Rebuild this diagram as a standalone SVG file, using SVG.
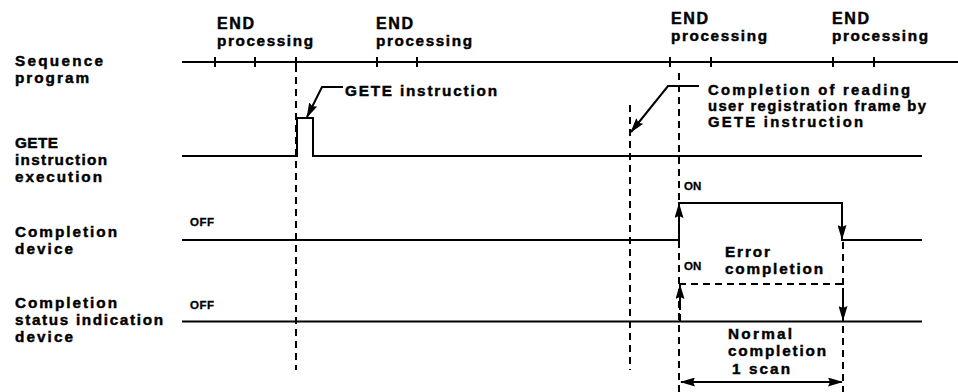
<svg xmlns="http://www.w3.org/2000/svg" width="958" height="392" viewBox="0 0 958 392">
<style>
text{font-family:"Liberation Sans",Arial,sans-serif;font-weight:bold;font-size:15.3px;fill:#000;stroke:#000;stroke-width:0.45}
.s{font-size:11.5px;stroke-width:0.3}
.r{font-size:14.8px}
.e{font-size:16px}
.ln{stroke:#000;stroke-width:2;fill:none}
.dash{stroke:#000;stroke-width:2;fill:none;stroke-dasharray:7 5}
.arr{stroke:#000;stroke-width:2;fill:none;marker-end:url(#ah)}
</style>
<defs>
<marker id="ah" markerUnits="userSpaceOnUse" markerWidth="15" markerHeight="9" refX="14" refY="4.5" orient="auto-start-reverse">
<path d="M0,0 L15,4.5 L0,9 L2,4.5 z" fill="#000"/>
</marker>
</defs>
<rect width="958" height="392" fill="#fff"/>
<g id="labels">
<text x="15" y="66" textLength="88">Sequence</text>
<text x="15" y="83" textLength="74">program</text>
<text x="15" y="148" textLength="43">GETE</text>
<text x="15" y="165" textLength="92">instruction</text>
<text x="15" y="182" textLength="87">execution</text>
<text x="15" y="237" textLength="102">Completion</text>
<text x="15" y="254" textLength="58">device</text>
<text x="15" y="308" textLength="102">Completion</text>
<text x="15" y="325" textLength="148">status indication</text>
<text x="15" y="342" textLength="58">device</text>
</g>
<g id="end-labels">
<text class="e" x="217" y="29" textLength="37">END</text><text x="217" y="46" textLength="96">processing</text>
<text class="e" x="376" y="29" textLength="37">END</text><text x="376" y="46" textLength="96">processing</text>
<text class="e" x="671" y="24" textLength="37">END</text><text x="671" y="41" textLength="96">processing</text>
<text class="e" x="832" y="24" textLength="37">END</text><text x="832" y="41" textLength="96">processing</text>
</g>
<g id="sequence">
<line class="ln" x1="182" y1="62" x2="958" y2="62"/>
<path class="ln" d="M215,57V67M255,57V67M296,57V67M377,57V67M417,57V67M670,57V67M711,57V67M833,57V67M874,57V67"/>
</g>
<g id="gete">
<polyline class="ln" points="182,156 297,156 297,118 313,118 313,156 922,156"/>
</g>
<g id="completion">
<polyline class="ln" points="182,240 679,240 679,203 842,203 842,240 922,240"/>
<text class="s" x="190" y="226" textLength="24">OFF</text>
<text class="s" x="684" y="190">ON</text>
</g>
<g id="status">
<line class="ln" x1="182" y1="321.5" x2="922" y2="321.5"/>
<polyline class="dash" points="680,321 680,284 843,284 843,321"/>
<text class="s" x="190" y="309" textLength="24">OFF</text>
<text class="s" x="684" y="270">ON</text>
</g>
<g id="connectors">
<line class="dash" x1="296" y1="65" x2="296" y2="370"/>
<line class="dash" x1="630" y1="105" x2="630" y2="370"/>
<line class="dash" x1="679" y1="73" x2="679" y2="392"/>
<line class="dash" x1="843" y1="242" x2="843" y2="392"/>
<line class="arr" x1="679" y1="230" x2="679" y2="204"/>
<line class="arr" x1="842" y1="215" x2="842" y2="239"/>
<line class="arr" x1="680" y1="310" x2="680" y2="285"/>
<line class="arr" x1="843" y1="296" x2="843" y2="320"/>
<line class="arr" x1="681" y1="382" x2="842" y2="382" style="marker-start:url(#ah)"/>
<polyline class="arr" points="343,87 322,87 307,117"/>
<polyline class="arr" points="699,86 668,86 631,132"/>
</g>
<g id="annotations">
<text x="345" y="96" textLength="152">GETE instruction</text>
<text class="r" x="708" y="95" textLength="202">Completion of reading</text>
<text class="r" x="708" y="111" textLength="218">user registration frame by</text>
<text class="r" x="708" y="127" textLength="155">GETE instruction</text>
<text x="725" y="257" textLength="45">Error</text>
<text x="725" y="274" textLength="98">completion</text>
<text x="728" y="339" textLength="64">Normal</text>
<text x="728" y="356" textLength="98">completion</text>
<text x="732" y="374" textLength="58">1 scan</text>
</g>
</svg>
